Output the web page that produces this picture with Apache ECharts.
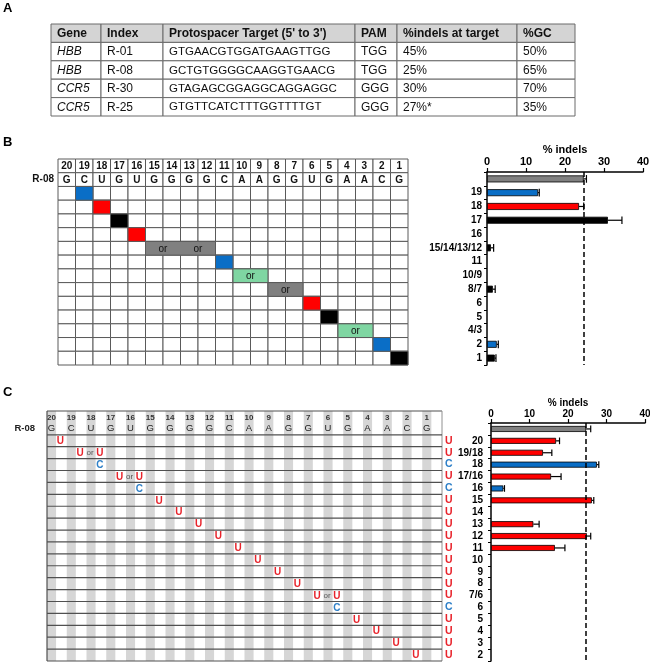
<!DOCTYPE html>
<html>
<head>
<meta charset="utf-8">
<script src="https://cdn.jsdelivr.net/npm/echarts@6/dist/echarts.min.js"></script>
<style>
html, body { margin: 0; background: #fff; }
#main { width: 650px; height: 664px; }
</style>
</head>
<body>
<div id="main"></div>
<script>
// ---------- panel A: table ----------
const tableHeader = ['Gene', 'Index', "Protospacer Target (5' to 3')", 'PAM', '%indels at target', '%GC'];
const genes = ['HBB', 'HBB', 'CCR5', 'CCR5'];
const guideIndex = ['R-01', 'R-08', 'R-30', 'R-25'];
const protospacers = ['GTGAACGTGGATGAAGTTGG', 'GCTGTGGGGCAAGGTGAACG', 'GTAGAGCGGAGGCAGGAGGC', 'GTGTTCATCTTTGGTTTTGT'];
const pams = ['TGG', 'TGG', 'GGG', 'GGG'];
const indelsAtTarget = ['45%', '25%', '30%', '27%*'];
const gcContent = ['50%', '65%', '70%', '35%'];

// ---------- shared: R-08 protospacer positions ----------
const positions = [20, 19, 18, 17, 16, 15, 14, 13, 12, 11, 10, 9, 8, 7, 6, 5, 4, 3, 2, 1];
const r08Bases = ['G', 'C', 'U', 'G', 'U', 'G', 'G', 'G', 'G', 'C', 'A', 'A', 'G', 'G', 'U', 'G', 'A', 'A', 'C', 'G'];

// ---------- panel B ----------
const bRowLabels = ['', '19', '18', '17', '16', '15/14/13/12', '11', '10/9', '8/7', '6', '5', '4/3', '2', '1'];
const bFrom = [null, 19, 18, 17, 16, 15, 11, 10, 8, 6, 5, 4, 2, 1];
const bTo = [null, 19, 18, 17, 16, 12, 11, 9, 7, 6, 5, 3, 2, 1];
const bCellKind = [null, 'blue', 'red', 'black', 'red', 'gray', 'blue', 'green', 'gray', 'red', 'black', 'green', 'blue', 'black'];
const bBarKind = ['gray', 'blue', 'red', 'black', 'black', 'black', 'blue', 'green', 'black', 'red', 'black', 'green', 'blue', 'black'];
const bIndels = [24.8, 13.1, 23.6, 31.0, 0, 1.0, 0, 0, 1.5, 0, 0, 0, 2.5, 2.0];
const bErr = [0.7, 0.3, 1.2, 3.6, 0, 0.7, 0, 0, 0.6, 0, 0, 0, 0.4, 0.3];
const bParental = 24.8;

// ---------- panel C ----------
const cRowLabels = ['', '20', '19/18', '18', '17/16', '16', '15', '14', '13', '12', '11', '10', '9', '8', '7/6', '6', '5', '4', '3', '2'];
const cFrom = [null, 20, 19, 18, 17, 16, 15, 14, 13, 12, 11, 10, 9, 8, 7, 6, 5, 4, 3, 2];
const cTo = [null, 20, 18, 18, 16, 16, 15, 14, 13, 12, 11, 10, 9, 8, 6, 6, 5, 4, 3, 2];
const cBase = ['', 'U', 'U', 'C', 'U', 'C', 'U', 'U', 'U', 'U', 'U', 'U', 'U', 'U', 'U', 'C', 'U', 'U', 'U', 'U'];
const cIndels = [24.7, 16.9, 13.5, 27.5, 15.6, 3.2, 26.2, 0, 11.0, 24.9, 16.6, 0, 0, 0, 0, 0, 0, 0, 0, 0];
const cErr = [1.2, 0.9, 2.3, 0.5, 2.6, 0.3, 0.5, 0, 1.5, 1.0, 2.6, 0, 0, 0, 0, 0, 0, 0, 0, 0];
const cParental = 24.7;

// ---------- styles / layout ----------
const FONT = '"Liberation Sans", Arial, sans-serif';
const kindColor = { gray: '#808080', blue: '#0a6ec6', red: '#ff0000', black: '#000000', green: '#7fd6a2' };
const baseColor = { U: '#e8232b', C: '#2f80c8' };
const colWidths = [50, 62, 192, 42, 120, 58];
const gridLine = '#5a5a5a';

const posIdx = p => 20 - p;

// table cells
const tableRows = [tableHeader].concat(genes.map((g, i) =>
  [g, guideIndex[i], protospacers[i], pams[i], indelsAtTarget[i], gcContent[i]]));
const colEdges = [0];
colWidths.forEach(w => colEdges.push(colEdges[colEdges.length - 1] + w));
const tableData = [];
tableRows.forEach((row, r) => row.forEach((t, c) => tableData.push([colEdges[c], colEdges[c + 1], r])));

function renderTable(params, api) {
  const r = api.value(2);
  const c = params.dataIndex % tableHeader.length;
  const a = api.coord([api.value(0), r]);
  const b = api.coord([api.value(1), r]);
  const h = api.size([0, 1])[1];
  let weight = 'normal', style = 'normal', size = 12;
  if (r === 0) weight = 'bold';
  else if (c === 0) style = 'italic';
  else if (c === 2) size = 11.5;
  return {
    type: 'group',
    children: [
      { type: 'rect', shape: { x: a[0], y: a[1] - h / 2, width: b[0] - a[0], height: h },
        style: { fill: r === 0 ? '#d4d4d4' : '#fff', stroke: '#6a6a6a', lineWidth: 1 } },
      { type: 'text', style: { x: a[0] + 6, y: a[1] + 0.5, text: tableRows[r][c], fontSize: size,
        fontWeight: weight, fontStyle: style, fontFamily: FONT, fill: '#111', align: 'left', verticalAlign: 'middle' } }
    ]
  };
}

// panel B grid
const bCellData = [];
for (let r = 0; r < bRowLabels.length + 1; r++) for (let c = 0; c < 20; c++) bCellData.push([c, r]);

function renderBCell(params, api) {
  const c = api.value(0), r = api.value(1);
  const p = api.coord([c, r]);
  const s = api.size([1, 1]);
  const kids = [{ type: 'rect', shape: { x: p[0] - s[0] / 2, y: p[1] - s[1] / 2, width: s[0], height: s[1] },
    style: { fill: '#fff', stroke: gridLine, lineWidth: 1 } }];
  if (r < 2) {
    kids.push({ type: 'text', style: { x: p[0], y: p[1] + 0.5, text: r === 0 ? String(positions[c]) : r08Bases[c],
      fontSize: 10, fontWeight: 'bold', fontFamily: FONT, fill: '#111', align: 'center', verticalAlign: 'middle' } });
  }
  return { type: 'group', children: kids };
}

const bSpanData = [];
for (let i = 1; i < bRowLabels.length; i++) bSpanData.push([posIdx(bFrom[i]), posIdx(bTo[i]), i + 1]);

function renderBSpan(params, api) {
  const a = api.value(0), b = api.value(1), r = api.value(2);
  const s = api.size([1, 1]);
  const pa = api.coord([a, r]);
  const n = b - a + 1;
  const x0 = pa[0] - s[0] / 2;
  const kids = [{ type: 'rect', shape: { x: x0, y: pa[1] - s[1] / 2, width: s[0] * n, height: s[1] },
    style: { fill: kindColor[bCellKind[r - 1]], stroke: gridLine, lineWidth: 1 } }];
  if (n > 1) {
    for (let k = 0; k < n; k += 2) {
      kids.push({ type: 'text', style: { x: x0 + s[0] * (k + 1), y: pa[1] + 0.5, text: 'or', fontSize: 10,
        fontFamily: FONT, fill: '#111', align: 'center', verticalAlign: 'middle' } });
    }
  }
  return { type: 'group', children: kids };
}

// panel C grid
const cStripeData = positions.map((p, c) => [c, 0]);
function renderCStripe(params, api) {
  const c = api.value(0);
  const s = api.size([1, 1]);
  const top = api.coord([c, 0]);
  const bot = api.coord([c, cRowLabels.length]);
  const x0 = top[0] - s[0] / 2;
  const y0 = top[1] - s[1] / 2, y1 = bot[1] + s[1] / 2;
  const cx = x0 + s[0] * 0.23;
  return {
    type: 'group',
    children: [
      { type: 'rect', shape: { x: x0, y: y0, width: s[0] * 0.46, height: y1 - y0 }, style: { fill: '#d6d6d6' } },
      { type: 'text', style: { x: cx, y: top[1] + 1, text: String(positions[c]), fontSize: 8, fontWeight: 'bold',
        fontFamily: FONT, fill: '#333', align: 'center', verticalAlign: 'middle' } },
      { type: 'text', style: { x: cx, y: api.coord([c, 1])[1], text: r08Bases[c], fontSize: 9.5,
        fontFamily: FONT, fill: '#222', align: 'center', verticalAlign: 'middle' } }
    ]
  };
}

const cLineData = [];
for (let r = 0; r <= cRowLabels.length + 1; r++) if (r !== 1) cLineData.push([0, r]);
function renderCLine(params, api) {
  const r = api.value(1);
  const s = api.size([1, 1]);
  const last = cRowLabels.length;
  const left = api.coord([0, 0])[0] - s[0] / 2;
  const right = api.coord([19, 0])[0] + s[0] / 2;
  const y = r <= last ? api.coord([0, r])[1] - s[1] / 2 : api.coord([0, last])[1] + s[1] / 2;
  const kids = [{ type: 'line', shape: { x1: left, y1: y, x2: right, y2: y }, style: { stroke: '#505050', lineWidth: 1.2 } }];
  if (r === 0) {
    const yb = api.coord([0, last])[1] + s[1] / 2;
    kids.push({ type: 'line', shape: { x1: left, y1: y, x2: left, y2: yb }, style: { stroke: '#505050', lineWidth: 1.2 } });
    kids.push({ type: 'line', shape: { x1: right, y1: y, x2: right, y2: yb }, style: { stroke: '#909090', lineWidth: 1 } });
  }
  return { type: 'group', children: kids };
}

const cMarkData = [];
for (let i = 1; i < cRowLabels.length; i++) cMarkData.push([posIdx(cFrom[i]), posIdx(cTo[i]), i + 1]);
function renderCMark(params, api) {
  const a = api.value(0), b = api.value(1), r = api.value(2);
  const s = api.size([1, 1]);
  const pa = api.coord([a, r]), pb = api.coord([b, r]);
  const xa = pa[0] - s[0] / 2 + s[0] * 0.68;
  const xb = pb[0] - s[0] / 2 + s[0] * 0.68;
  const base = cBase[r - 1];
  const mk = (x, t, col, size, w) => ({ type: 'text', style: { x: x, y: pa[1] + 0.5, text: t, fontSize: size,
    fontWeight: w, fontFamily: FONT, fill: col, align: 'center', verticalAlign: 'middle' } });
  const kids = [mk(xa, base, baseColor[base], 10, 'bold')];
  if (b !== a) {
    kids.push(mk((xa + xb) / 2, 'or', '#555', 8, 'normal'));
    kids.push(mk(xb, base, baseColor[base], 10, 'bold'));
  }
  return { type: 'group', children: kids };
}

// bars + error bars
function barData(vals, colorOf) {
  return vals.map((v, i) => v > 0 ? { value: v, itemStyle: { color: colorOf(i) } } : '-');
}
function errData(vals, errs) {
  return vals.map((v, i) => [v, i, errs[i]]).filter(d => d[2] > 0);
}
function renderErr(params, api) {
  const v = api.value(0), i = api.value(1), e = api.value(2);
  const a = api.coord([v, i]), b = api.coord([v + e, i]);
  const h = api.size([0, 1])[1] * 0.28;
  return {
    type: 'group',
    children: [
      { type: 'line', shape: { x1: a[0], y1: a[1], x2: b[0], y2: b[1] }, style: { stroke: '#000', lineWidth: 1.2 } },
      { type: 'line', shape: { x1: b[0], y1: b[1] - h, x2: b[0], y2: b[1] + h }, style: { stroke: '#000', lineWidth: 1.2 } }
    ]
  };
}

function pctAxis(gridIndex, fontSize, margin, nameGap) {
  return {
    gridIndex: gridIndex, type: 'value', position: 'top', min: 0, max: 40, interval: 10,
    name: '% indels', nameLocation: 'middle', nameGap: nameGap,
    nameTextStyle: { fontWeight: 'bold', fontSize: fontSize, color: '#000', fontFamily: FONT },
    axisLine: { show: true, lineStyle: { color: '#000', width: 1.5 } },
    axisTick: { show: true, length: 4, lineStyle: { color: '#000', width: 1.2 } },
    axisLabel: { fontWeight: 'bold', fontSize: fontSize, color: '#000', margin: margin, fontFamily: FONT },
    splitLine: { show: false }
  };
}
function rowAxis(gridIndex, labels, fontSize, margin) {
  return {
    gridIndex: gridIndex, type: 'category', data: labels, inverse: true,
    axisLine: { show: true, lineStyle: { color: '#000', width: 1.5 } },
    axisTick: { show: true, length: 3, lineStyle: { color: '#000', width: 1 } },
    axisLabel: { interval: 0, fontWeight: 'bold', fontSize: fontSize, color: '#000', margin: margin, fontFamily: FONT },
    splitLine: { show: false }
  };
}
function hiddenCat(gridIndex, data, inverse) {
  return { gridIndex: gridIndex, type: 'category', data: data, inverse: !!inverse, show: false };
}

const bGridRows = ['', 'R-08'].concat(bRowLabels.slice(1).map(() => ''));
const cGridRows = ['', 'R-08'].concat(cRowLabels.slice(1).map(() => ''));
const cRightRows = ['', ''].concat(cBase.slice(1));
const noBounds = { outerBoundsMode: 'none', containLabel: false };

const option = {
  animation: false,
  backgroundColor: '#fff',
  textStyle: { fontFamily: FONT },
  title: [
    { text: 'A', left: 3, top: 2, padding: 0, textStyle: { fontSize: 13, fontWeight: 'bold', color: '#000' } },
    { text: 'B', left: 3, top: 136, padding: 0, textStyle: { fontSize: 13, fontWeight: 'bold', color: '#000' } },
    { text: 'C', left: 3, top: 386, padding: 0, textStyle: { fontSize: 13, fontWeight: 'bold', color: '#000' } }
  ],
  grid: [
    Object.assign({ left: 51, top: 24, width: 524, height: 92 }, noBounds),
    Object.assign({ left: 58, top: 159, width: 350, height: 206 }, noBounds),
    Object.assign({ left: 487, top: 172, width: 156, height: 193 }, noBounds),
    Object.assign({ left: 47, top: 411, width: 395, height: 250 }, noBounds),
    Object.assign({ left: 491, top: 423, width: 154, height: 238 }, noBounds)
  ],
  xAxis: [
    { gridIndex: 0, type: 'value', min: 0, max: colEdges[colEdges.length - 1], show: false },
    hiddenCat(1, positions.map(String)),
    pctAxis(2, 11, 5, 17),
    hiddenCat(3, positions.map(String)),
    pctAxis(4, 10, 4, 13)
  ],
  yAxis: [
    hiddenCat(0, tableRows.map((r, i) => String(i)), true),
    { gridIndex: 1, type: 'category', data: bGridRows, inverse: true, axisLine: { show: false }, axisTick: { show: false },
      axisLabel: { interval: 0, fontWeight: 'bold', fontSize: 10, color: '#111', margin: 4, fontFamily: FONT } },
    rowAxis(2, bRowLabels, 10, 5),
    { gridIndex: 3, type: 'category', data: cGridRows, inverse: true, axisLine: { show: false }, axisTick: { show: false },
      axisLabel: { interval: 0, fontWeight: 'bold', fontSize: 9.5, color: '#222', margin: 12, fontFamily: FONT } },
    rowAxis(4, cRowLabels, 10, 8),
    { gridIndex: 3, type: 'category', data: cRightRows, inverse: true, position: 'right',
      axisLine: { show: false }, axisTick: { show: false },
      axisLabel: { interval: 0, fontWeight: 'bold', fontSize: 10.5, margin: 3, fontFamily: FONT,
        color: (v) => baseColor[v] || '#000' } }
  ],
  series: [
    { type: 'custom', xAxisIndex: 0, yAxisIndex: 0, data: tableData, encode: { x: [0, 1], y: 2 }, renderItem: renderTable },
    { type: 'custom', xAxisIndex: 1, yAxisIndex: 1, data: bCellData, encode: { x: 0, y: 1 }, renderItem: renderBCell, z: 1 },
    { type: 'custom', xAxisIndex: 1, yAxisIndex: 1, data: bSpanData, encode: { x: [0, 1], y: 2 }, renderItem: renderBSpan, z: 3 },
    {
      type: 'bar', xAxisIndex: 2, yAxisIndex: 2, barWidth: 7,
      data: barData(bIndels, i => kindColor[bBarKind[i]]),
      itemStyle: { borderColor: '#000', borderWidth: 0.8 },
      markLine: { silent: true, symbol: ['none', 'none'], label: { show: false },
        lineStyle: { color: '#000', type: [5, 3], width: 1.5 }, data: [{ xAxis: bParental }] }
    },
    { type: 'custom', xAxisIndex: 2, yAxisIndex: 2, data: errData(bIndels, bErr), encode: { x: 0, y: 1 }, renderItem: renderErr, z: 4 },
    { type: 'custom', xAxisIndex: 3, yAxisIndex: 3, data: cStripeData, encode: { x: 0, y: 1 }, renderItem: renderCStripe, z: 1 },
    { type: 'custom', xAxisIndex: 3, yAxisIndex: 3, data: cLineData, encode: { x: 0, y: 1 }, renderItem: renderCLine, z: 2 },
    { type: 'custom', xAxisIndex: 3, yAxisIndex: 3, data: cMarkData, encode: { x: [0, 1], y: 2 }, renderItem: renderCMark, z: 3 },
    {
      type: 'bar', xAxisIndex: 4, yAxisIndex: 4, barWidth: 6,
      data: barData(cIndels, i => i === 0 ? kindColor.gray : (cBase[i] === 'C' ? kindColor.blue : kindColor.red)),
      itemStyle: { borderColor: '#000', borderWidth: 0.8 },
      markLine: { silent: true, symbol: ['none', 'none'], label: { show: false },
        lineStyle: { color: '#000', type: [5, 3], width: 1.5 }, data: [{ xAxis: cParental }] }
    },
    { type: 'custom', xAxisIndex: 4, yAxisIndex: 4, data: errData(cIndels, cErr), encode: { x: 0, y: 1 }, renderItem: renderErr, z: 4 }
  ]
};

const chart = echarts.init(document.getElementById('main'));
chart.setOption(option);
</script>
</body>
</html>
